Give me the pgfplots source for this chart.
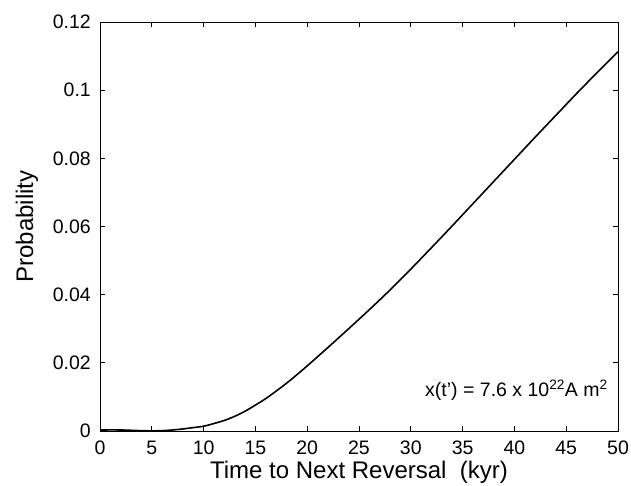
\documentclass[border=0pt]{standalone}
\usepackage{fontspec}
\setmainfont{Liberation Sans}
\usepackage{pgfplots}
\pgfplotsset{compat=1.18}
\begin{document}
\begin{tikzpicture}
\begin{axis}[
  at={(0pt,0pt)}, anchor=south west,
  scale only axis, width=518pt, height=409pt,
  xmin=0, xmax=50, ymin=0, ymax=0.12,
  xtick={0,5,...,50},
  ytick={0,0.02,0.04,0.06,0.08,0.1,0.12},
  scaled y ticks=false,
  yticklabel style={/pgf/number format/fixed, /pgf/number format/precision=2, inner sep=0pt, xshift=-9pt},
  xticklabel style={inner sep=0pt, yshift=-10pt},
  /pgf/number format/assume math mode=true,
  tick label style={font=\fontsize{19.5}{23}\selectfont},
  label style={font=\fontsize{24}{28}\selectfont},
  tick align=inside, major tick length=5pt,
  every tick/.style={black, line width=0.7pt},
  axis line style={line width=0.8pt},
  xlabel={Time to Next Reversal~~(kyr)},
  ylabel={Probability},
  xlabel style={at={(axis description cs:0.5,-0.1166)}, anchor=base},
  ylabel style={at={(axis description cs:-0.1293,0.5)}, anchor=base},
]
\addplot[black, line width=1.6pt, smooth] table {
x y
0 0.0003
2 0.0003
4 0.0001
5 0.00005
6 0.0001
7 0.0003
8 0.0006
9 0.0010
10 0.0014
11 0.0022
12 0.0031
13 0.0043
14 0.0058
15 0.0076
16 0.0095
17 0.0117
18 0.0140
19 0.0165
20 0.0191
22 0.0245
24 0.0300
26 0.0356
28 0.0414
30 0.0475
32 0.0538
34 0.0602
36 0.0667
38 0.0732
40 0.0797
42 0.0862
44 0.0926
46 0.0990
48 0.1052
50 0.1113
};
\node[anchor=base east, inner sep=0pt, font=\fontsize{19.5}{23}\selectfont] at (axis cs:49.03,0.0101) {x(t’) = 7.6 x 10\textsuperscript{22}A m\textsuperscript{2}};
\end{axis}
\pgfresetboundingbox
\path[use as bounding box] (-100pt,-54pt) rectangle (531pt,431pt);
\end{tikzpicture}
\end{document}
